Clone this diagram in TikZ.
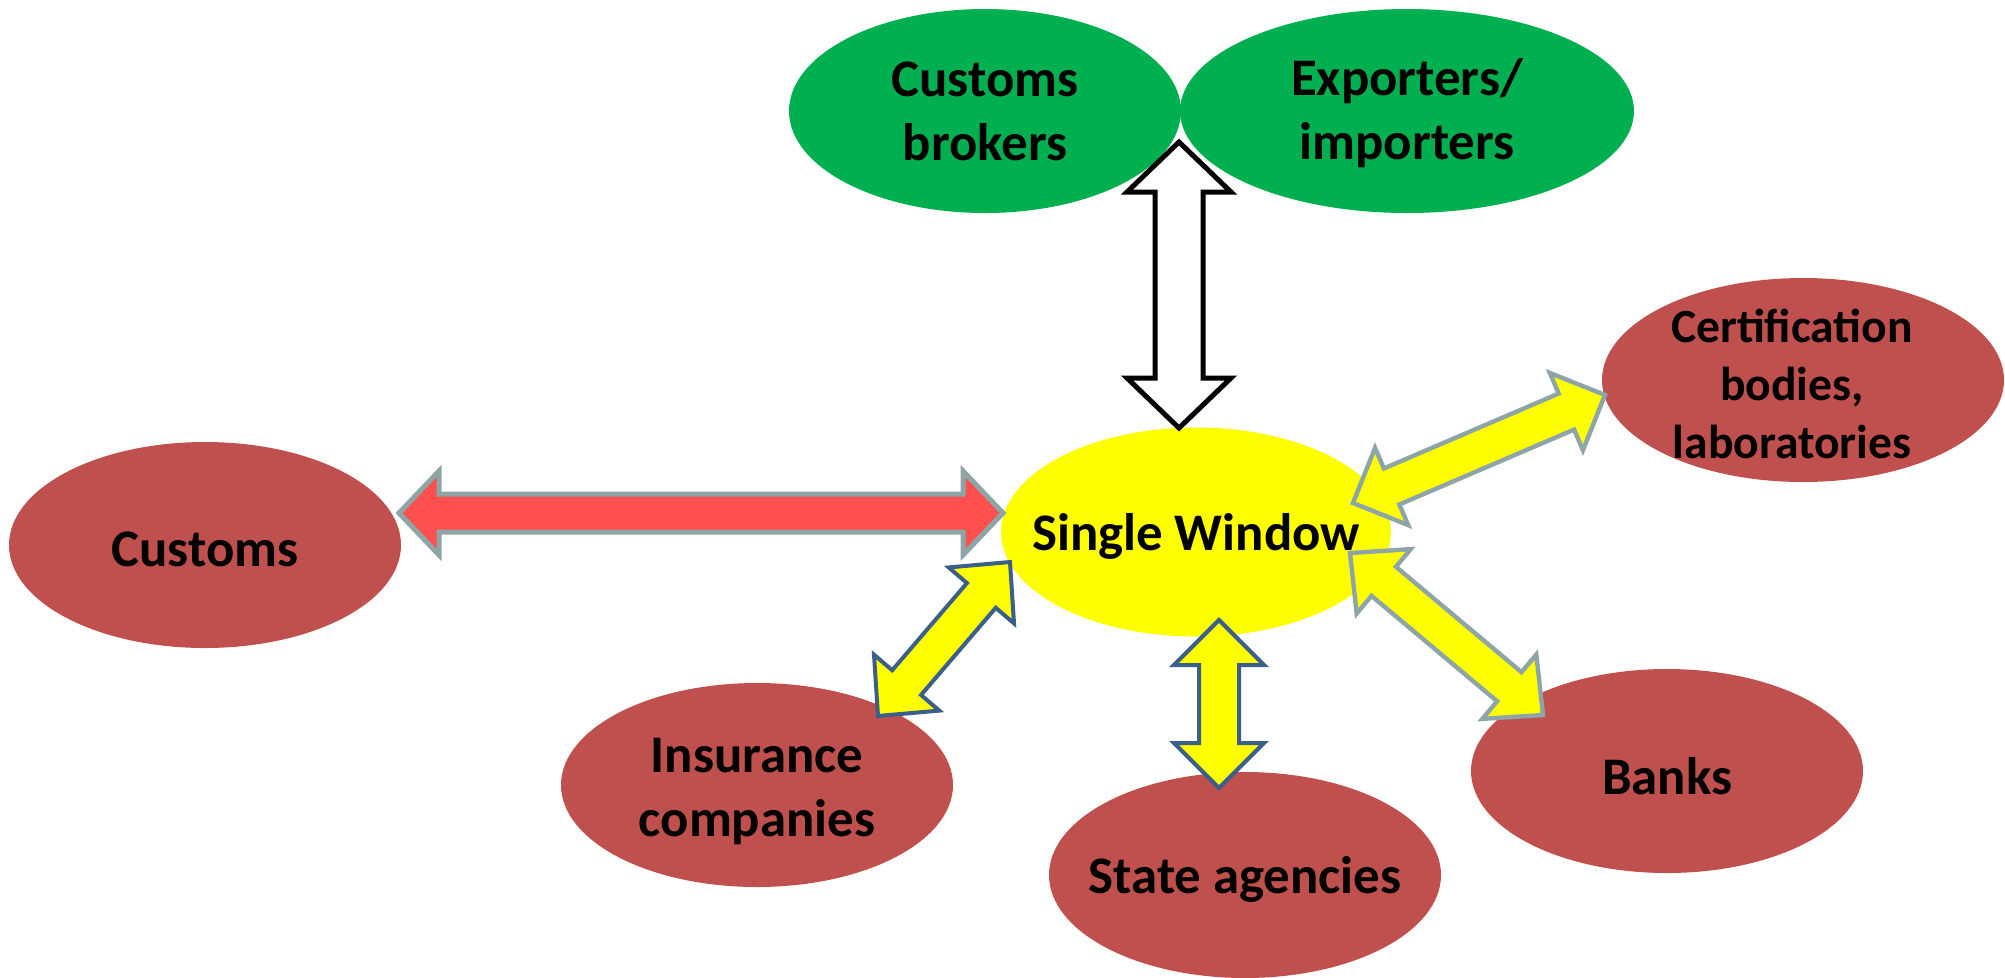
\documentclass[tikz,border=0pt]{standalone}
\usepackage{fontspec}
\setmainfont{Carlito}
\usetikzlibrary{shapes.geometric,calc}

\definecolor{partygreen}{HTML}{00B050}
\definecolor{agencyred}{HTML}{C0504D}
\definecolor{windowyellow}{HTML}{FFFF00}
\definecolor{linkred}{HTML}{FF5050}
\definecolor{linkgray}{HTML}{8EA5A7}
\definecolor{linkblue}{HTML}{3A5F8B}

% two-way block arrow: style, from, to, head length, head half width, shaft half width
\newcommand{\twoway}[6]{%
  \draw[#1] (#2)
    -- ($(#2)!#4!(#3)!#5!90:(#3)$)
    -- ($(#2)!#4!(#3)!#6!90:(#3)$)
    -- ($(#3)!#4!(#2)!#6!-90:(#2)$)
    -- ($(#3)!#4!(#2)!#5!-90:(#2)$)
    -- (#3)
    -- ($(#3)!#4!(#2)!#5!90:(#2)$)
    -- ($(#3)!#4!(#2)!#6!90:(#2)$)
    -- ($(#2)!#4!(#3)!#6!-90:(#3)$)
    -- ($(#2)!#4!(#3)!#5!-90:(#3)$)
    -- cycle;}

\begin{document}
\begin{tikzpicture}[x=0.25pt, y=-0.25pt,
    blob/.style={ellipse, inner sep=0pt, minimum width=98pt, minimum height=51pt},
    nodetext/.style={inner sep=0pt, align=center, yshift=-1.2pt, font=\fontsize{13.2}{16}\selectfont\bfseries},
    redlink/.style={fill=linkred, draw=linkgray, line width=1.25pt},
    graylink/.style={fill=windowyellow, draw=linkgray, line width=1.1pt},
    bluelink/.style={fill=windowyellow, draw=linkblue, line width=1pt},
    whitelink/.style={fill=white, draw=black, line width=1.25pt}
]
\useasboundingbox (0,0) rectangle (2005,977);

\node[blob, fill=partygreen] (brokers) at (985,111) {};
\node[blob, fill=partygreen, minimum width=113.5pt] (traders) at (1407,111) {};
\node[blob, fill=agencyred, minimum width=100.5pt] (cert) at (1803,380) {};
\node[blob, fill=agencyred, minimum height=51.5pt] (customs) at (205,545) {};
\node[blob, fill=windowyellow, minimum width=97.5pt, minimum height=52.25pt] (sw) at (1196,532) {};
\node[blob, fill=agencyred] (insur) at (757,785) {};
\node[blob, fill=agencyred, minimum height=51.5pt] (state) at (1245,875) {};
\node[blob, fill=agencyred] (banks) at (1667,771) {};

\node[nodetext, yshift=1.2pt] (brokers-t) at (brokers) {Customs\\brokers};
\node[nodetext, yshift=0.7pt] (traders-t) at (traders) {Exporters/\\importers};
\node[nodetext, xshift=-2.75pt, yshift=0.2pt, font=\fontsize{11.9}{14.4}\selectfont\bfseries] (cert-t) at (cert) {Certification\\bodies,\\laboratories};
\node[nodetext] (customs-t) at (customs) {Customs};
\node[nodetext] (sw-t) at (sw) {Single Window};
\node[nodetext, yshift=-0.4pt] (insur-t) at (insur) {Insurance\\companies};
\node[nodetext] (state-t) at (state) {State agencies};
\node[nodetext] (banks-t) at (banks) {Banks};

% arrow ends
\coordinate (customs-e) at ($(customs)+(194,-32)$);
\coordinate (sw-w) at ($(sw)+(-193,-19)$);
\coordinate (brokers-se) at ($(brokers)+(194,31)$);
\coordinate (sw-n) at ($(sw)+(-17,-104)$);
\coordinate (sw-sw) at ($(sw)+(-186,30)$);
\coordinate (insur-ne) at ($(insur)+(121,-69)$);
\coordinate (sw-s) at ($(sw)+(23,88)$);
\coordinate (state-n) at ($(state)+(-26,-87)$);
\coordinate (sw-e) at ($(sw)+(157,-29)$);
\coordinate (cert-w) at ($(cert)+(-198,15)$);
\coordinate (sw-se) at ($(sw)+(154,21)$);
\coordinate (banks-nw) at ($(banks)+(-124,-56)$);

\twoway{redlink}{customs-e}{sw-w}{10pt}{10.5pt}{4.75pt}
\twoway{whitelink}{brokers-se}{sw-n}{12.5pt}{13pt}{6pt}
\twoway{bluelink}{sw-sw}{insur-ne}{11pt}{10.75pt}{4.75pt}
\twoway{bluelink}{sw-s}{state-n}{11.25pt}{11.25pt}{5pt}
\twoway{graylink}{sw-e}{cert-w}{10.5pt}{10.5pt}{4.9pt}
\twoway{graylink}{sw-se}{banks-nw}{11pt}{10.5pt}{4.75pt}

\end{tikzpicture}
\end{document}
